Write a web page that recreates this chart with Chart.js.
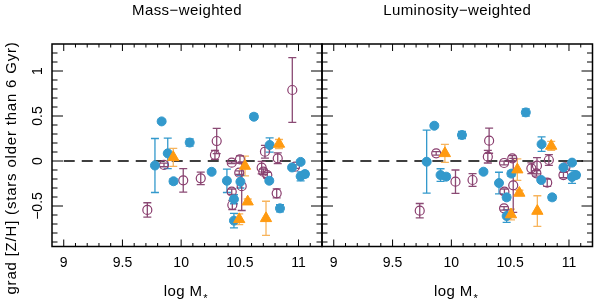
<!DOCTYPE html>
<html>
<head>
<meta charset="utf-8">
<script src="https://cdn.jsdelivr.net/npm/chart.js@4/dist/chart.umd.min.js"></script>
<style>
  html, body { margin: 0; padding: 0; background: #fff; }
  #wrap { position: relative; width: 600px; height: 304px; }
  canvas { position: absolute; left: 0; top: 0; }
</style>
</head>
<body>
<div id="wrap">
  <canvas id="massChart" width="600" height="304"></canvas>
  <canvas id="lumChart" width="600" height="304"></canvas>
</div>
<script>
// tick labels
const xTickValues = [9, 9.5, 10, 10.5, 11];
const xTickLabels = ["9", "9.5", "10", "10.5", "11"];
const yTickValues = [-0.5, 0, 0.5, 1];
const yTickLabels = ["\u22120.5", "0", "0.5", "1"];

// Mass-weighted panel
const massBlueX = [9.777, 9.834, 9.886, 9.935, 10.073, 10.26, 10.39, 10.45, 10.45, 10.505, 10.62, 10.754, 10.751, 10.842, 10.945, 11.018, 11.018, 11.055];
const massBlueY = [-0.05, 0.44, 0.085, -0.225, 0.205, -0.12, -0.22, -0.425, -0.663, -0.23, 0.492, 0.178, -0.219, -0.526, -0.072, -0.01, -0.17, -0.145];
const massBlueErr = [0.30, 0.02, 0.17, 0.03, 0.04, 0.02, 0.13, 0.05, 0.08, 0.07, 0.03, 0.08, 0.02, 0.04, 0.02, 0.02, 0.05, 0.03];

const massPurpleX = [9.712, 9.854, 10.018, 10.167, 10.288, 10.303, 10.431, 10.501, 10.495, 10.516, 10.431, 10.436, 10.714, 10.823, 10.686, 10.70, 10.734, 10.814, 10.947, 10.97];
const massPurpleY = [-0.544, -0.044, -0.215, -0.193, 0.067, 0.222, -0.019, 0.018, -0.13, -0.28, -0.341, -0.489, 0.103, 0.03, -0.074, -0.119, -0.156, -0.359, 0.789, -0.063];
const massPurpleErr = [0.08, 0.02, 0.13, 0.07, 0.05, 0.14, 0.01, 0.04, 0.02, 0.27, 0.03, 0.05, 0.07, 0.06, 0.07, 0.03, 0.03, 0.05, 0.36, 0.02];

const massOrangeX = [9.933, 10.544, 10.495, 10.567, 10.723, 10.834];
const massOrangeY = [0.041, -0.056, -0.648, -0.452, -0.637, 0.189];
const massOrangeErr = [0.10, 0.11, 0.06, 0.03, 0.19, 0.05];

// Luminosity-weighted panel
const lumBlueX = [9.79, 9.855, 9.908, 9.956, 10.09, 10.273, 10.405, 10.47, 10.47, 10.51, 10.633, 10.767, 10.764, 10.857, 10.953, 11.026, 11.026, 11.06];
const lumBlueY = [-0.008, 0.392, -0.156, -0.174, 0.289, -0.119, -0.245, -0.404, -0.611, -0.14, 0.54, 0.187, -0.211, -0.404, -0.072, -0.018, -0.178, -0.156];
const lumBlueErr = [0.35, 0.02, 0.07, 0.03, 0.04, 0.02, 0.12, 0.03, 0.07, 0.03, 0.04, 0.08, 0.02, 0.03, 0.02, 0.02, 0.07, 0.03];

const lumPurpleX = [9.731, 9.871, 10.035, 10.18, 10.31, 10.321, 10.448, 10.518, 10.451, 10.448, 10.526, 10.68, 10.728, 10.723, 10.829, 10.815, 10.953, 10.97];
const lumPurpleY = [-0.552, 0.085, -0.23, -0.211, 0.048, 0.226, -0.022, 0.03, -0.341, -0.526, -0.27, -0.081, -0.052, -0.137, 0.011, -0.241, -0.156, -0.07];
const lumPurpleErr = [0.08, 0.02, 0.13, 0.07, 0.07, 0.14, 0.02, 0.03, 0.03, 0.02, 0.30, 0.06, 0.09, 0.03, 0.06, 0.04, 0.03, 0.02];

const lumOrangeX = [9.945, 10.507, 10.561, 10.578, 10.731, 10.849];
const lumOrangeY = [0.085, -0.595, -0.096, -0.355, -0.556, 0.167];
const lumOrangeErr = [0.10, 0.06, 0.12, 0.03, 0.17, 0.05];

const BLUE = "#3399cc", PURPLE = "#8a3d6e", ORANGE = "#ff9a10";
const FONT = "'Liberation Sans', Arial, sans-serif";

function pts(xs, ys) {
  return xs.map((x, i) => ({ x: x, y: ys[i] }));
}

const idlAxes = {
  id: "idlAxes",
  beforeDatasetsDraw(chart, args, opts) {
    const ctx = chart.ctx, xs = chart.scales.x, ys = chart.scales.y;
    // dashed zero line
    ctx.save();
    ctx.strokeStyle = "#000";
    ctx.lineWidth = 1.4;
    ctx.setLineDash([11, 7]);
    ctx.beginPath();
    ctx.moveTo(xs.getPixelForValue(opts.zeroFrom), ys.getPixelForValue(0));
    ctx.lineTo(xs.getPixelForValue(opts.zeroTo), ys.getPixelForValue(0));
    ctx.stroke();
    ctx.restore();

    // error bars
    chart.data.datasets.forEach((ds, i) => {
      const meta = chart.getDatasetMeta(i);
      ctx.save();
      ctx.strokeStyle = ds.errColor;
      ctx.lineWidth = 1.3;
      ctx.beginPath();
      meta.data.forEach((el, j) => {
        const v = ds.data[j].y, e = ds.errors[j];
        const top = ys.getPixelForValue(v + e), bot = ys.getPixelForValue(v - e);
        ctx.moveTo(el.x, top); ctx.lineTo(el.x, bot);
        ctx.moveTo(el.x - 4, top); ctx.lineTo(el.x + 4, top);
        ctx.moveTo(el.x - 4, bot); ctx.lineTo(el.x + 4, bot);
      });
      ctx.stroke();
      ctx.restore();
    });
  },
  afterDraw(chart, args, opts) {
    const ctx = chart.ctx, xs = chart.scales.x, ys = chart.scales.y;
    const a = chart.chartArea;
    ctx.save();
    ctx.strokeStyle = "#000";
    ctx.lineWidth = 1.5;
    ctx.strokeRect(a.left, a.top, a.right - a.left, a.bottom - a.top);

    // minor/major ticks pointing inward
    ctx.lineWidth = 1;
    ctx.beginPath();
    for (let k = 90; k <= 112; k++) {
      const px = xs.getPixelForValue(k / 10);
      const len = k % 5 === 0 ? 7 : 3.5;
      ctx.moveTo(px, a.bottom); ctx.lineTo(px, a.bottom - len);
      ctx.moveTo(px, a.top); ctx.lineTo(px, a.top + len);
    }
    for (let k = -9; k <= 12; k++) {
      const py = ys.getPixelForValue(k / 10);
      const len = k % 5 === 0 ? 11 : 5.5;
      ctx.moveTo(a.left, py); ctx.lineTo(a.left + len, py);
      ctx.moveTo(a.right, py); ctx.lineTo(a.right - len, py);
    }
    ctx.stroke();

    // tick labels
    ctx.fillStyle = "#000";
    ctx.font = "14px " + FONT;
    ctx.textAlign = "center";
    ctx.textBaseline = "middle";
    xTickValues.forEach((v, i) => {
      ctx.fillText(xTickLabels[i], xs.getPixelForValue(v), 263);
    });
    if (opts.yLabels) {
      yTickValues.forEach((v, i) => {
        ctx.save();
        ctx.translate(38, ys.getPixelForValue(v));
        ctx.rotate(-Math.PI / 2);
        ctx.fillText(yTickLabels[i], 0, 0);
        ctx.restore();
      });
      ctx.save();
      ctx.font = "15px " + FONT;
      ctx.letterSpacing = "0.8px";
      ctx.translate(12, 168);
      ctx.rotate(-Math.PI / 2);
      ctx.fillText("grad [Z/H] (stars older than 6 Gyr)", 0, 0);
      ctx.restore();
    }

    // panel title
    const cx = (a.left + a.right) / 2;
    ctx.font = "15px " + FONT;
    ctx.letterSpacing = "0.4px";
    ctx.fillText(opts.title, cx, 11);

    // x axis title: log M with * subscript
    const main = "log M";
    const w = ctx.measureText(main).width;
    ctx.textAlign = "left";
    ctx.fillText(main, cx - w / 2 - 4, 292);
    ctx.font = "11px " + FONT;
    ctx.fillText("*", cx + w / 2 - 3, 299);
    ctx.restore();
  }
};

function makePanel(id, title, padding, yLabels, zeroFrom, zeroTo, blue, purple, orange) {
  return new Chart(document.getElementById(id).getContext("2d"), {
    type: "scatter",
    data: {
      datasets: [
        {
          data: pts(orange[0], orange[1]),
          errors: orange[2],
          errColor: "#f7b45c",
          pointStyle: "triangle",
          pointRadius: 6.5,
          backgroundColor: ORANGE,
          borderColor: ORANGE,
          borderWidth: 1
        },
        {
          data: pts(blue[0], blue[1]),
          errors: blue[2],
          errColor: BLUE,
          pointStyle: "circle",
          pointRadius: 4.5,
          backgroundColor: BLUE,
          borderColor: BLUE,
          borderWidth: 1
        },
        {
          data: pts(purple[0], purple[1]),
          errors: purple[2],
          errColor: "#8a4a74",
          pointStyle: "circle",
          pointRadius: 4.5,
          backgroundColor: "rgba(0,0,0,0)",
          borderColor: PURPLE,
          borderWidth: 1.2
        }
      ]
    },
    options: {
      responsive: false,
      animation: false,
      layout: { padding: padding },
      plugins: {
        legend: { display: false },
        tooltip: { enabled: false },
        idlAxes: { title: title, yLabels: yLabels, zeroFrom: zeroFrom, zeroTo: zeroTo }
      },
      scales: {
        x: { type: "linear", min: 8.9, max: 11.2, display: false },
        y: { type: "linear", min: -0.95, max: 1.3, display: false }
      }
    },
    plugins: [idlAxes]
  });
}

makePanel("massChart", "Mass\u2212weighted", { left: 52, right: 278, top: 44, bottom: 57.5 }, true, 9.0, 11.05,
  [massBlueX, massBlueY, massBlueErr], [massPurpleX, massPurpleY, massPurpleErr], [massOrangeX, massOrangeY, massOrangeErr]);

makePanel("lumChart", "Luminosity\u2212weighted", { left: 322, right: 5, top: 44, bottom: 57.5 }, false, 8.92, 11.12,
  [lumBlueX, lumBlueY, lumBlueErr], [lumPurpleX, lumPurpleY, lumPurpleErr], [lumOrangeX, lumOrangeY, lumOrangeErr]);
</script>
</body>
</html>
